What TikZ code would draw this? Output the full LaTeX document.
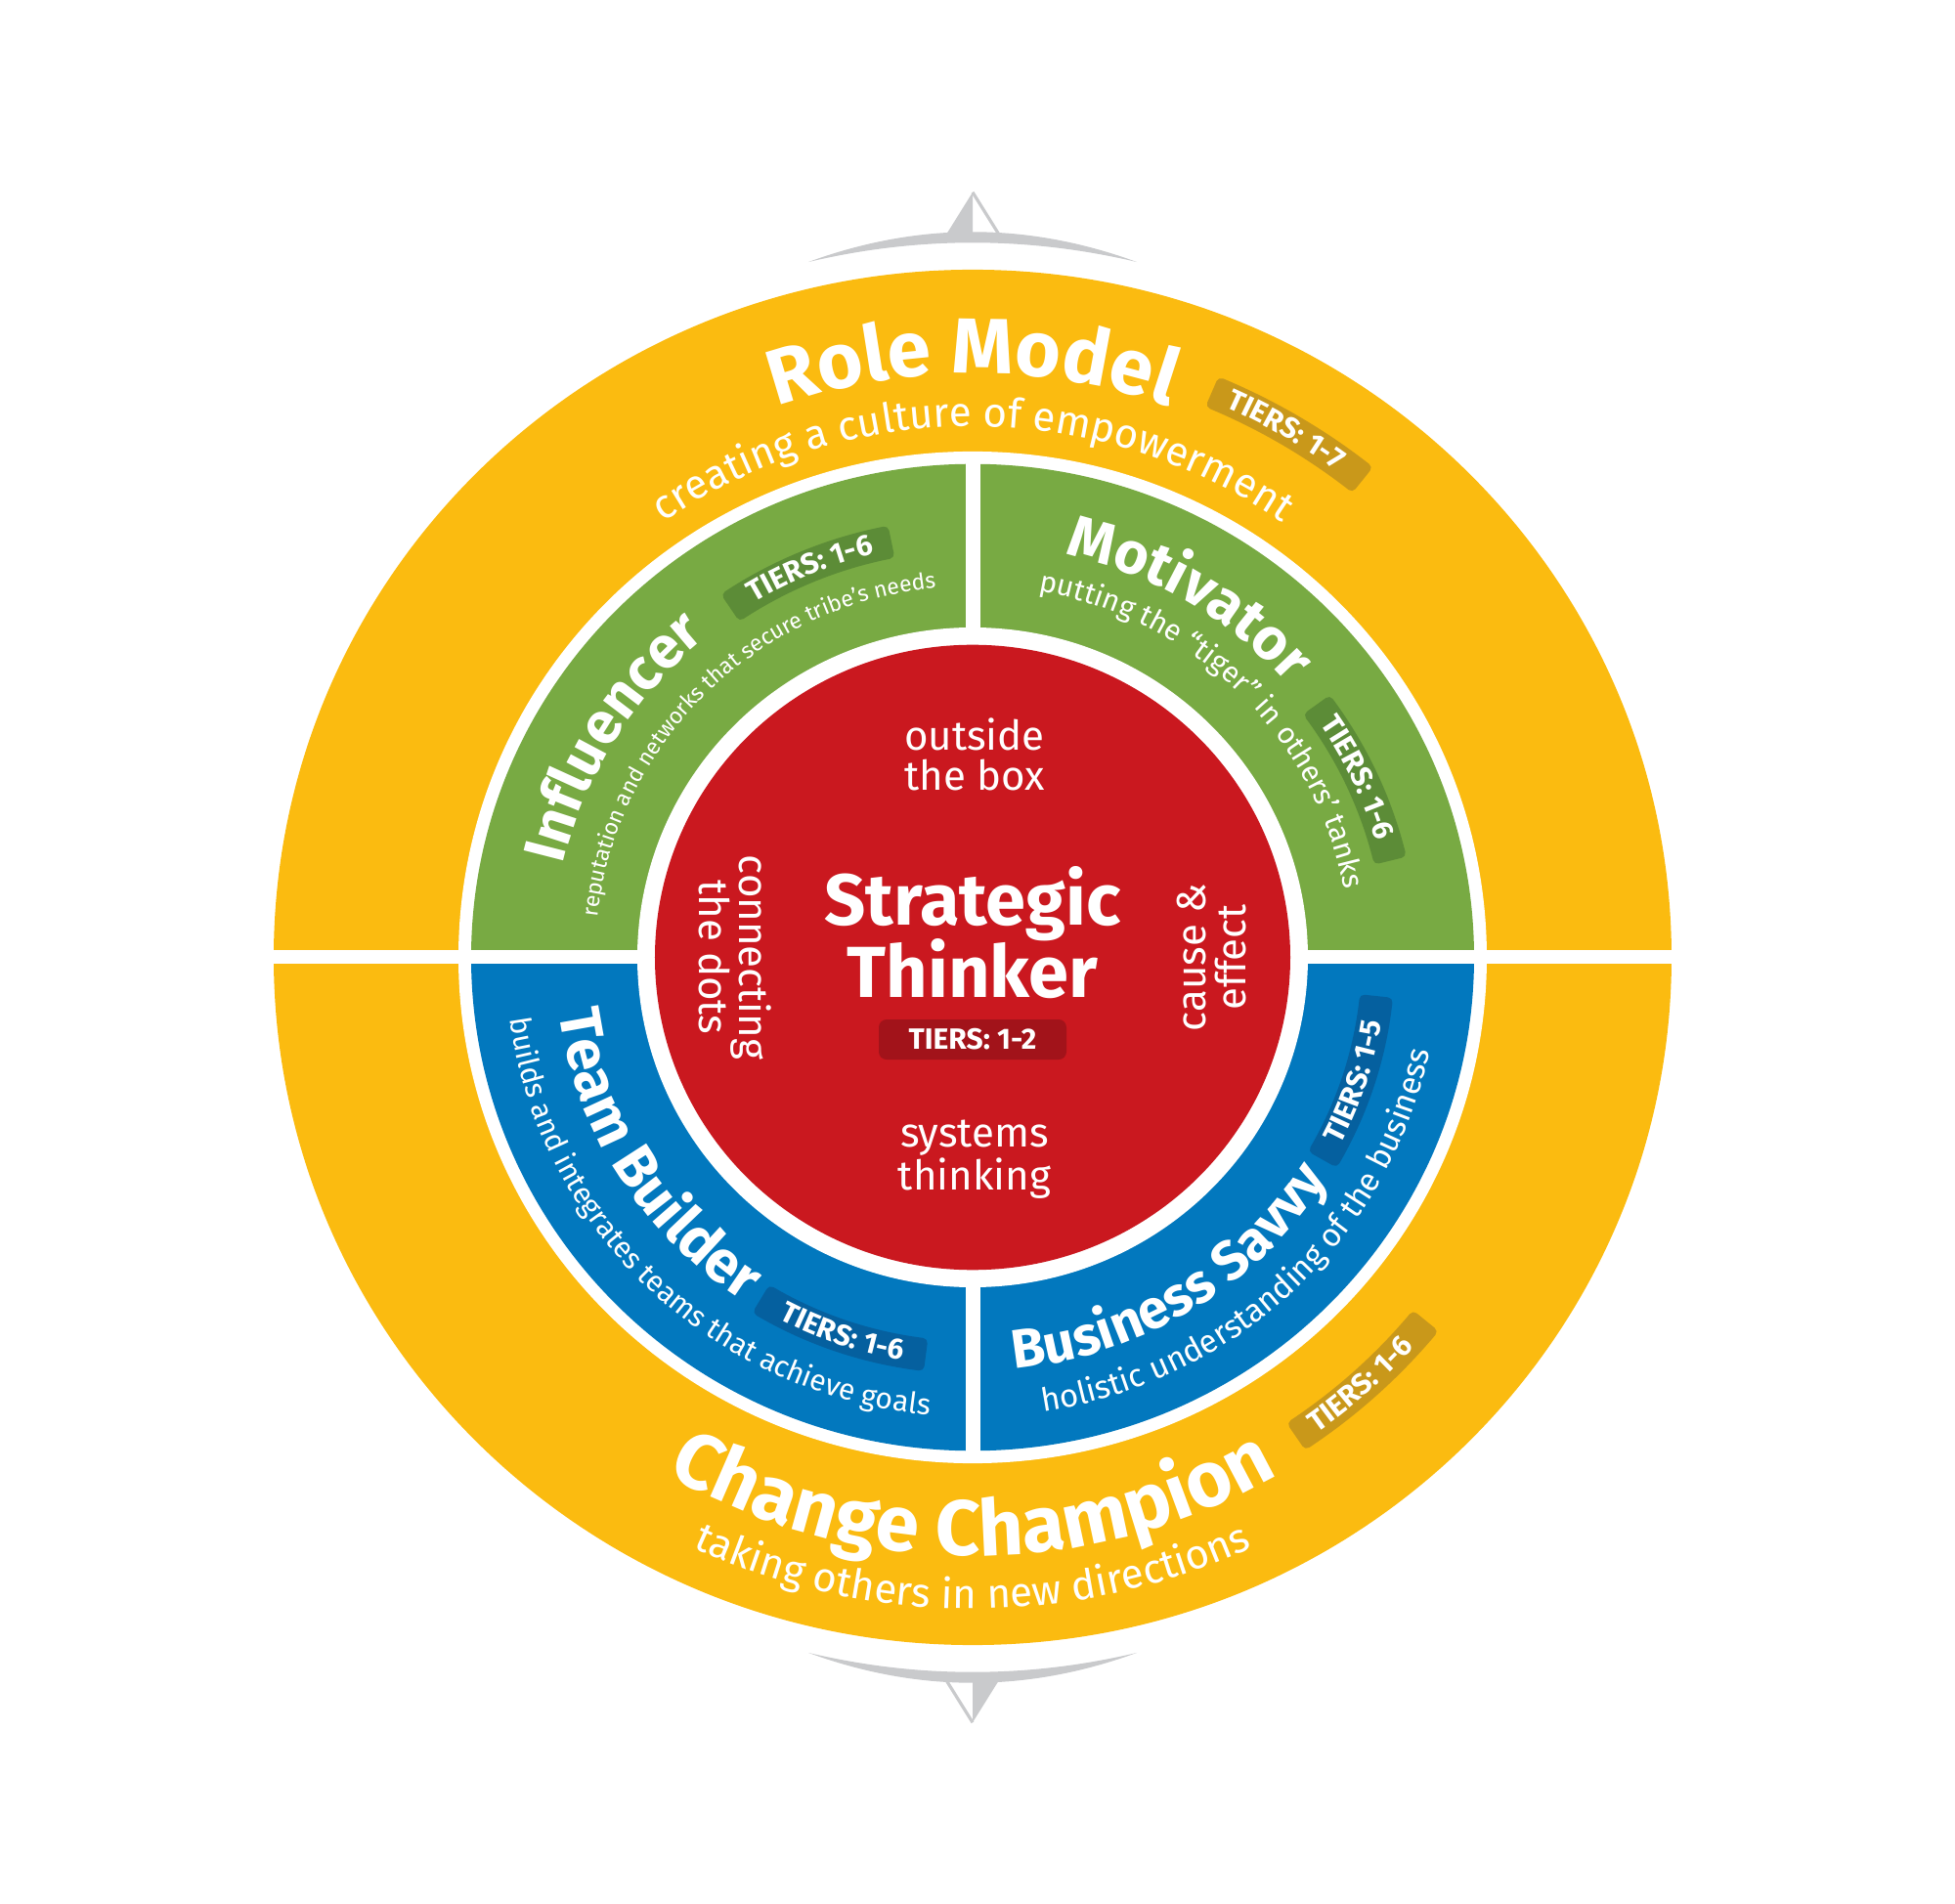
\documentclass[tikz,border=0pt]{standalone}
\usepackage{fontspec}
\setmainfont{Fira Sans}
\usetikzlibrary{decorations.text}

\definecolor{wheelyellow}{HTML}{FBBB10}
\definecolor{wheelgreen}{HTML}{78AA43}
\definecolor{wheelblue}{HTML}{0278BE}
\definecolor{wheelred}{HTML}{CA181F}
\definecolor{badgeyellow}{HTML}{C9981A}
\definecolor{badgegreen}{HTML}{5C8C37}
\definecolor{badgeblue}{HTML}{05609F}
\definecolor{badgered}{HTML}{A2131A}
\definecolor{compassgray}{HTML}{C9CACC}

\newcommand\bigtitle{\color{white}\bfseries\fontsize{40}{40}\selectfont}
\newcommand\ringtitle{\color{white}\bfseries\fontsize{30}{30}\selectfont}
\newcommand\savvytitle{\color{white}\bfseries\fontsize{28}{28}\selectfont}
\newcommand\bigsub{\color{white}\fontsize{21}{21}\selectfont}
\newcommand\ringsub{\color{white}\fontsize{15}{15}\selectfont}
\newcommand\widesub{\color{white}\fontsize{16.5}{16.5}\selectfont}
\newcommand\smallsub{\color{white}\fontsize{11.5}{11.5}\selectfont}
\newcommand\badgefont{\color{white}\bfseries\fontsize{15}{15}\selectfont}

\tikzset{ringrad/.style={x radius=(#1)*0.5pt, y radius=(#1)*0.492pt}}

\newcommand\ringtext[5]{%
  \pgfmathsetmacro\txa{#2+70*(#4)}%
  \pgfmathsetmacro\txb{#2-70*(#4)}%
  \path[decorate, decoration={text along path, text align=center, text={|#1|#5}}]
    (\txa:#3) arc[start angle=\txa, end angle=\txb, ringrad=#3];%
}
\newcommand\tierbadge[5]{%
  \pgfmathsetmacro\bda{#2+85/(#3)*57.2958}%
  \pgfmathsetmacro\bdb{#2-85/(#3)*57.2958}%
  \pgfmathsetmacro\bdr{#3-9*(#4)}%
  \path[fill=#1, draw=#1, line width=5pt, line join=round]
    (\bda:#3-12) arc[start angle=\bda, end angle=\bdb, ringrad=#3-12]
    -- (\bdb:#3+12) arc[start angle=\bdb, end angle=\bda, ringrad=#3+12] -- cycle;
  \ringtext{\badgefont}{#2}{\bdr}{#4}{#5}%
}

\begin{document}
\begin{tikzpicture}[x=0.5pt, y=0.492pt]
\useasboundingbox (-497.5pt,-483.75pt) rectangle (502.5pt,489.75pt);

\fill[compassgray] (-168,723) .. controls (-56,764.7) and (56,764.7) .. (168,723) .. controls (56,749.8) and (-56,749.8) .. cycle;
\fill[compassgray] (0,795.5) -- (-26.7,752) -- (0,752) -- cycle;
\draw[compassgray, line width=1.6pt] (0,795.5) -- (26.7,752);
\fill[compassgray] (-168,-723) .. controls (-56,-764.7) and (56,-764.7) .. (168,-723) .. controls (56,-749.8) and (-56,-749.8) .. cycle;
\fill[compassgray] (0,-795.5) -- (26.7,-752) -- (0,-752) -- cycle;
\draw[compassgray, line width=1.6pt] (0,-795.5) -- (-26.7,-752);

\fill[wheelyellow] (0,0) circle[ringrad=715];
\fill[white] (0,0) circle[ringrad=526];
\fill[wheelgreen] (513,0) arc[start angle=0, end angle=180, ringrad=513] -- cycle;
\fill[wheelblue] (-513,0) arc[start angle=180, end angle=360, ringrad=513] -- cycle;
\draw[white, line width=7pt] (-730,0) -- (730,0);
\draw[white, line width=7.5pt] (0,-520) -- (0,520);
\fill[white] (0,0) circle[ringrad=343];
\fill[wheelred] (0,0) circle[ringrad=325];

\tierbadge{badgeyellow}{59.3}{637}{1}{TIERS: 1-7}
\ringtext{\bigtitle}{90}{607}{1}{Role Model}
\ringtext{\bigsub}{90}{552}{1}{creating a culture of empowerment}

\tierbadge{badgegreen}{112.6}{440}{1}{TIERS: 1-6}
\ringtext{\ringtitle}{148.5}{430}{1}{Influencer}
\ringtext{\smallsub}{134.9}{386}{1}{reputation and networks that secure tribe’s needs}

\tierbadge{badgegreen}{25}{439}{1}{TIERS: 1-6}
\ringtext{\ringtitle}{59}{430}{1}{Motivator}
\ringtext{\ringsub}{45}{387}{1}{putting the “tiger” in others’ tanks}

\tierbadge{badgeblue}{251}{416}{-1}{TIERS: 1-6}
\ringtext{\ringtitle}{212}{427}{-1}{Team Builder}
\ringtext{\ringsub}{226}{478}{-1}{builds and integrates teams that achieve goals}

\tierbadge{badgeblue}{342}{415}{-1}{TIERS: 1-5}
\ringtext{\savvytitle}{302}{430}{-1}{Business Savvy}
\ringtext{\widesub}{313.7}{478}{-1}{holistic understanding of the business}

\tierbadge{badgeyellow}{312.2}{598}{-1}{TIERS: 1-6}
\ringtext{\bigtitle}{270}{622}{-1}{Change Champion}
\ringtext{\bigsub}{270}{677}{-1}{taking others in new directions}

\node[anchor=base, text=white, font=\bfseries\fontsize{37}{37}\selectfont] (strategic) at (0,33.6) {Strategic};
\node[anchor=base, text=white, font=\bfseries\fontsize{37}{37}\selectfont] (thinker) at (0,-41.6) {Thinker};
\node[fill=badgered, rounded corners=4pt, minimum width=96pt, minimum height=20.5pt, inner sep=0pt, text=white, font=\bfseries\fontsize{15}{15}\selectfont] (tiers) at (0,-85.4) {TIERS: 1-2};
\node[align=center, text=white, font=\fontsize{21}{20.5}\selectfont] (outside) at (2,211.2) {outside\\the box};
\node[align=center, text=white, font=\fontsize{21}{20.5}\selectfont] (systems) at (2,-209.9) {systems\\thinking};
\node[align=center, text=white, rotate=-90, font=\fontsize{21}{20.5}\selectfont] (dots) at (-242.5,0) {connecting\\the dots};
\node[align=center, text=white, rotate=90, font=\fontsize{21}{20.5}\selectfont] (cause) at (245,0) {cause \&\\effect};
\end{tikzpicture}
\end{document}
